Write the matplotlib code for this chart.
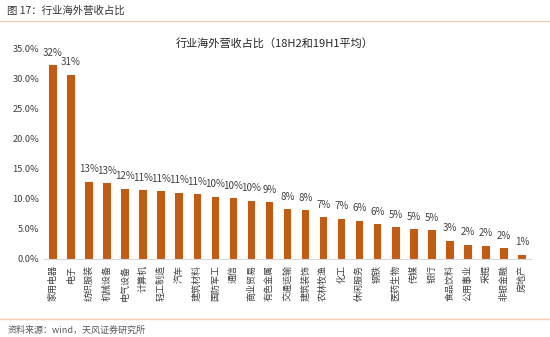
import matplotlib
matplotlib.use("Agg")
import matplotlib.pyplot as plt
from matplotlib.ticker import FuncFormatter
from matplotlib.lines import Line2D

plt.rcParams['font.family'] = ['Noto Sans CJK SC', 'DejaVu Sans']

categories = ["家用电器", "电子", "纺织服装", "机械设备", "电气设备", "计算机", "轻工制造",
              "汽车", "建筑材料", "国防军工", "通信", "商业贸易", "有色金属", "交通运输",
              "建筑装饰", "农林牧渔", "化工", "休闲服务", "钢铁", "医药生物", "传媒",
              "银行", "食品饮料", "公用事业", "采掘", "非银金融", "房地产"]
overseas_share = [0.323, 0.307, 0.129, 0.126, 0.117, 0.1145, 0.113, 0.110, 0.108,
                  0.104, 0.101, 0.097, 0.0945, 0.083, 0.081, 0.0695, 0.067, 0.064,
                  0.058, 0.053, 0.0495, 0.048, 0.030, 0.024, 0.022, 0.018, 0.007]
y_ticks = [0.0, 0.05, 0.10, 0.15, 0.20, 0.25, 0.30, 0.35]

bar_color = "#C55A11"
rule_color = "#F8CBAD"
text_color = "#404040"

fig = plt.figure(figsize=(5.5, 3.37), dpi=100)
ax = fig.add_axes([0.08, 0.2315, 0.8855, 0.6231])

x = range(len(categories))
bars = ax.bar(x, overseas_share, width=0.42, color=bar_color)

for xi, v in zip(x, overseas_share):
    ax.annotate(f"{v:.0%}", (xi, v), xytext=(0, 5.5), textcoords="offset points",
                ha="center", va="bottom", fontsize=7, color=text_color)

ax.set_xlim(-0.5, len(categories) - 0.5)
ax.set_ylim(0, 0.35)
ax.set_yticks(y_ticks)
ax.yaxis.set_major_formatter(FuncFormatter(lambda v, _: f"{v * 100:.1f}%"))
ax.set_xticks(list(x))
ax.set_xticklabels(categories, rotation=90, fontsize=6.5, color=text_color)
ax.tick_params(axis="both", length=0, labelsize=6.7, colors=text_color)
ax.tick_params(axis="x", pad=4, labelsize=6.5)

for side in ("top", "right", "left"):
    ax.spines[side].set_visible(False)
ax.spines["bottom"].set_color("#D9D9D9")
ax.spines["bottom"].set_linewidth(0.8)

fig.text(0.5, 0.872, "行业海外营收占比（18H2和19H1平均）", ha="center", va="center",
         fontsize=8, color="#262626")

fig.text(0.013, 0.968, "图 17：行业海外营收占比", ha="left", va="center",
         fontsize=7.5, color="#333333")
fig.add_artist(Line2D([0, 1], [0.938, 0.938], transform=fig.transFigure,
                      color=rule_color, linewidth=1.0))
fig.add_artist(Line2D([0, 1], [0.054, 0.054], transform=fig.transFigure,
                      color=rule_color, linewidth=1.0))
fig.text(0.013, 0.02, "资料来源：wind，天风证券研究所", ha="left", va="center",
         fontsize=6.5, color="#595959")

fig.savefig("out.png", dpi=100)
